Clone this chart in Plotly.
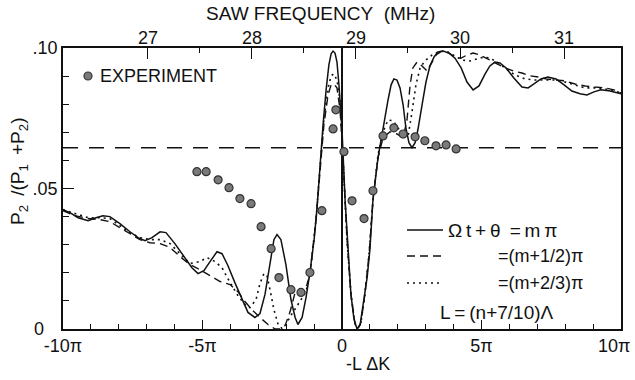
import plotly.graph_objects as go

# ---------------- data (x in units of pi for -L*dK, y = P2/(P1+P2)) ----------------
x_solid = [-10.00, -9.75, -9.46, -9.10, -8.82, -8.57, -8.32, -7.96, -7.60, -7.31, -7.06, -6.81,
           -6.52, -6.31, -5.99, -5.63, -5.38, -5.16, -4.95, -4.73, -4.48, -4.30, -4.09, -3.84,
           -3.58, -3.37, -3.12, -2.94, -2.76, -2.58, -2.44, -2.33, -2.19, -2.01, -1.83, -1.68,
           -1.58, -1.43, -1.29, -1.15, -1.00, -0.90, -0.79, -0.68, -0.57, -0.47, -0.39, -0.32,
           -0.25, -0.18, -0.11, 0.00, 0.11, 0.22, 0.32, 0.43, 0.54, 0.65, 0.79, 0.90, 1.00,
           1.11, 1.29, 1.47, 1.65, 1.76, 1.86, 1.97, 2.08, 2.19, 2.29, 2.40, 2.51, 2.62, 2.72,
           2.87, 3.01, 3.15, 3.30, 3.44, 3.62, 3.84, 4.05, 4.27, 4.48, 4.70, 4.91, 5.13, 5.30,
           5.48, 5.66, 5.88, 6.16, 6.45, 6.67, 6.88, 7.13, 7.38, 7.67, 7.96, 8.24, 8.53, 8.78,
           9.03, 9.28, 9.61, 10.00]
p_solid = [0.0425, 0.0414, 0.0396, 0.0385, 0.0396, 0.0403, 0.0400, 0.0375, 0.0346, 0.0325, 0.0314, 0.0325,
           0.0346, 0.0343, 0.0304, 0.0254, 0.0218, 0.0197, 0.0208, 0.0240, 0.0275, 0.0268, 0.0226, 0.0165,
           0.0105, 0.0059, 0.0041, 0.0055, 0.0123, 0.0240, 0.0318, 0.0336, 0.0318, 0.0229, 0.0105, 0.0041,
           0.0016, 0.0041, 0.0112, 0.0201, 0.0318, 0.0425, 0.0584, 0.0726, 0.0851, 0.0940, 0.0979, 0.0989,
           0.0982, 0.0950, 0.0869, 0.0709, 0.0460, 0.0265, 0.0123, 0.0034, 0.0000, 0.0016, 0.0105, 0.0183, 0.0282,
           0.0460, 0.0609, 0.0716, 0.0815, 0.0869, 0.0890, 0.0886, 0.0858, 0.0798, 0.0716, 0.0663, 0.0645, 0.0663, 0.0709,
           0.0798, 0.0879, 0.0936, 0.0968, 0.0986, 0.0989, 0.0982, 0.0964, 0.0929, 0.0879, 0.0851, 0.0865, 0.0908, 0.0936,
           0.0950, 0.0947, 0.0929, 0.0893, 0.0861, 0.0858, 0.0872, 0.0890, 0.0897, 0.0890, 0.0869, 0.0847, 0.0837, 0.0833,
           0.0844, 0.0851, 0.0847, 0.0837]

x_dashed = [-10.00, -9.57, -9.10, -8.67, -8.32, -7.96, -7.60, -7.24, -6.88, -6.52, -6.16, -5.81,
            -5.45, -5.09, -4.73, -4.37, -4.01, -3.73, -3.48, -3.23, -2.94, -2.65, -2.40, -2.22,
            -2.04, -1.86, -1.68, -1.51, -1.33, -1.15, -0.93, -0.79, -0.65, -0.50, -0.39, -0.29,
            -0.18, -0.07, 0.04, 0.18, 0.32, 0.47, 0.57, 0.68, 0.82, 0.97, 1.11, 1.29, 1.47,
            1.72, 1.97, 2.19, 2.33, 2.44, 2.54, 2.69, 2.87, 3.05, 3.19, 3.37, 3.58, 3.84, 4.05,
            4.27, 4.48, 4.70, 4.95, 5.23, 5.52, 5.84, 6.16, 6.45, 6.74, 7.03, 7.31, 7.63, 7.99,
            8.35, 8.71, 9.07, 9.43, 9.75, 10.00]
p_dashed = [0.0421, 0.0403, 0.0393, 0.0389, 0.0382, 0.0361, 0.0339, 0.0318, 0.0307, 0.0304, 0.0290, 0.0258,
            0.0229, 0.0211, 0.0190, 0.0169, 0.0158, 0.0133, 0.0098, 0.0069, 0.0041, 0.0016, 0.0000, 0.0000,
            0.0012, 0.0062, 0.0130, 0.0140, 0.0133, 0.0194, 0.0389, 0.0567, 0.0726, 0.0833, 0.0869, 0.0872,
            0.0858, 0.0780, 0.0602, 0.0318, 0.0123, 0.0016, 0.0000, 0.0023, 0.0123, 0.0265, 0.0460, 0.0609, 0.0680,
            0.0702, 0.0694, 0.0680, 0.0744, 0.0869, 0.0929, 0.0950, 0.0936, 0.0918, 0.0943, 0.0975, 0.0989, 0.0982, 0.0968,
            0.0964, 0.0975, 0.0982, 0.0975, 0.0961, 0.0947, 0.0929, 0.0918, 0.0911, 0.0901, 0.0897, 0.0890, 0.0886, 0.0883,
            0.0872, 0.0865, 0.0861, 0.0858, 0.0851, 0.0840]

x_dotted = [-10.00, -9.57, -9.10, -8.67, -8.32, -7.96, -7.60, -7.24, -6.88, -6.52, -6.16, -5.81,
            -5.45, -5.09, -4.84, -4.55, -4.30, -4.01, -3.73, -3.48, -3.30, -3.08, -2.94, -2.80,
            -2.69, -2.58, -2.44, -2.29, -2.15, -2.01, -1.86, -1.65, -1.43, -1.29, -1.15, -0.93,
            -0.79, -0.65, -0.50, -0.39, -0.29, -0.18, -0.07, 0.04, 0.18, 0.32, 0.47, 0.57, 0.68,
            0.82, 0.97, 1.11, 1.29, 1.47, 1.65, 1.83, 2.01, 2.19, 2.37, 2.51, 2.65, 2.80, 2.97,
            3.23, 3.51, 3.80, 4.05, 4.30, 4.59, 4.84, 5.09, 5.30, 5.56, 5.84, 6.20, 6.56, 6.92,
            7.28, 7.63, 7.99, 8.35, 8.71, 9.07, 9.43, 9.75, 10.00]
p_dotted = [0.0425, 0.0410, 0.0396, 0.0396, 0.0393, 0.0368, 0.0343, 0.0325, 0.0318, 0.0318, 0.0304, 0.0268,
            0.0233, 0.0240, 0.0254, 0.0240, 0.0218, 0.0165, 0.0119, 0.0087, 0.0076, 0.0105, 0.0162, 0.0197,
            0.0190, 0.0140, 0.0069, 0.0016, 0.0002, 0.0016, 0.0044, 0.0076, 0.0112, 0.0133, 0.0194, 0.0389,
            0.0574, 0.0744, 0.0858, 0.0901, 0.0908, 0.0886, 0.0815, 0.0602, 0.0318, 0.0123, 0.0016, 0.0000, 0.0023,
            0.0123, 0.0265, 0.0460, 0.0620, 0.0702, 0.0744, 0.0741, 0.0716, 0.0680, 0.0687, 0.0773, 0.0869, 0.0929, 0.0954,
            0.0975, 0.0989, 0.0986, 0.0972, 0.0957, 0.0954, 0.0961, 0.0968, 0.0964, 0.0950, 0.0929, 0.0904, 0.0890, 0.0886,
            0.0886, 0.0886, 0.0879, 0.0869, 0.0858, 0.0858, 0.0854, 0.0847, 0.0840]

exp_x = [-5.20, -4.87, -4.44, -4.05, -3.66, -3.26, -2.90, -2.54, -2.26, -1.83, -1.47, -1.15,
         -0.72, -0.32, -0.22, 0.07, 0.36, 0.79, 1.11, 1.47, 1.86, 2.19, 2.62, 2.97, 3.37, 3.73, 4.09]
exp_y = [0.0560, 0.0560, 0.0531, 0.0503, 0.0464, 0.0446, 0.0364, 0.0286, 0.0183, 0.0140, 0.0130, 0.0201,
         0.0421, 0.0712, 0.0780, 0.0631, 0.0456, 0.0393, 0.0492, 0.0687, 0.0716, 0.0694, 0.0684, 0.0670,
         0.0652, 0.0655, 0.0641]

threshold_level = 0.0645

x_tick_vals = [-10, -5, 0, 5, 10]
x_tick_text = ["-10π", "-5π", "0", "5π", "10π\u2007\u2009"]
y_tick_vals = [0, 0.05, 0.10]
y_tick_text = ["0\u2007\u2009", ".05", ".10"]
freq_tick_vals = [27, 28, 29, 30, 31]
freq_tick_text = ["27", "28", "29", "30", "31"]
freq_minor_vals = [27.5, 28.5, 29.5, 30.5]
freq_range = [26.183, 31.548]

FONT = "Liberation Sans, Arial, sans-serif"
BLACK = "#111111"

fig = go.Figure()

fig.add_trace(go.Scatter(x=[x_tick_vals[0], x_tick_vals[-1]], y=[threshold_level, threshold_level],
                         mode="lines", line=dict(color=BLACK, width=1.3, dash="15px,11px"),
                         hoverinfo="skip"))
fig.add_trace(go.Scatter(x=x_dotted, y=p_dotted, mode="lines",
                         line=dict(color=BLACK, width=1.6, dash="2px,4px")))
fig.add_trace(go.Scatter(x=x_dashed, y=p_dashed, mode="lines",
                         line=dict(color=BLACK, width=1.4, dash="8px,5px")))
fig.add_trace(go.Scatter(x=x_solid, y=p_solid, mode="lines",
                         line=dict(color=BLACK, width=1.5)))
fig.add_trace(go.Scatter(x=exp_x, y=exp_y, mode="markers",
                         marker=dict(size=8, color="#7a7a7a", line=dict(color="#333333", width=1.2))))
# carrier for the top (frequency) axis
fig.add_trace(go.Scatter(x=freq_tick_vals, y=[0] * len(freq_tick_vals), xaxis="x2", mode="markers",
                         marker=dict(opacity=0), hoverinfo="skip"))

axis_common = dict(showline=True, linecolor=BLACK, linewidth=1.5, showgrid=False, automargin=False,
                   ticks="inside", tickcolor=BLACK, tickwidth=1.3,
                   tickfont=dict(family=FONT, size=18, color=BLACK))

fig.update_layout(
    width=635, height=380,
    margin=dict(l=63, r=14, t=48, b=51, autoexpand=False),
    paper_bgcolor="white", plot_bgcolor="white",
    showlegend=False,
    xaxis=dict(range=[-10, 10], tickmode="array", tickvals=x_tick_vals, ticktext=x_tick_text,
               ticklen=9, zeroline=True, zerolinecolor=BLACK, zerolinewidth=1.5,
               ticklabeloverflow="allow",
               minor=dict(dtick=1, tick0=0, ticks="inside", ticklen=5, tickcolor=BLACK, tickwidth=1.2,
                          showgrid=False),
               **axis_common),
    xaxis2=dict(range=freq_range, overlaying="x", side="top", anchor="y",
                tickmode="array", tickvals=freq_tick_vals, ticktext=freq_tick_text,
                ticklen=11, zeroline=False, ticklabelstandoff=-5,
                minor=dict(tickmode="array", tickvals=freq_minor_vals, ticks="inside", ticklen=5,
                           tickcolor=BLACK, tickwidth=1.2, showgrid=False),
                **axis_common),
    yaxis=dict(range=[0, 0.1], tickmode="array", tickvals=y_tick_vals, ticktext=y_tick_text,
               ticklen=11, zeroline=False, mirror=True,
               minor=dict(dtick=0.01, tick0=0, ticks="inside", ticklen=6, tickcolor=BLACK, tickwidth=1.2,
                          showgrid=False),
               **axis_common),
)

def px2paper_x(px):
    return (px - 63) / 558.0

def px2paper_y(py):
    return (329 - py) / 281.0

text_font = dict(family=FONT, size=18, color=BLACK)

annotations = [
    dict(text="SAW FREQUENCY\u00a0 (MHz)", x=px2paper_x(320), y=px2paper_y(13.5), xanchor="center",
         yanchor="middle", font=dict(family=FONT, size=19, color=BLACK)),
    dict(text="-L ΔK", x=px2paper_x(368), y=px2paper_y(364), xanchor="center", yanchor="middle",
         font=text_font),
    dict(text="P<sub>2</sub>\u2009 /(P<sub>1</sub>\u2009 +P<sub>2</sub>)", x=px2paper_x(19), y=px2paper_y(172),
         xanchor="center", yanchor="middle", textangle=-90, font=dict(family=FONT, size=19, color=BLACK)),
    dict(text="EXPERIMENT", x=px2paper_x(98), y=px2paper_y(76), xanchor="left", yanchor="middle",
         font=dict(family=FONT, size=18, color=BLACK)),
    dict(text="Ω\u2009t\u2009+\u2009θ \u2009=\u2009m\u2009π", x=px2paper_x(446), y=px2paper_y(230),
         xanchor="left", yanchor="middle", font=dict(family=FONT, size=19, color=BLACK)),
    dict(text="=(m+1/2)π", x=px2paper_x(496), y=px2paper_y(256), xanchor="left", yanchor="middle",
         font=dict(family=FONT, size=18, color=BLACK)),
    dict(text="=(m+2/3)π", x=px2paper_x(496), y=px2paper_y(283), xanchor="left", yanchor="middle",
         font=dict(family=FONT, size=18, color=BLACK)),
    dict(text="L\u2009=\u2009(n+7/10)Λ", x=px2paper_x(438), y=px2paper_y(312), xanchor="left", yanchor="middle",
         font=dict(family=FONT, size=19, color=BLACK)),
]
for a in annotations:
    a.update(xref="paper", yref="paper", showarrow=False)
fig.update_layout(annotations=annotations)

shapes = [
    dict(type="line", x0=px2paper_x(407), x1=px2paper_x(443), y0=px2paper_y(230), y1=px2paper_y(230),
         line=dict(color=BLACK, width=1.5)),
    dict(type="line", x0=px2paper_x(407), x1=px2paper_x(443), y0=px2paper_y(256), y1=px2paper_y(256),
         line=dict(color=BLACK, width=1.4, dash="8px,5px")),
    dict(type="line", x0=px2paper_x(407), x1=px2paper_x(443), y0=px2paper_y(283), y1=px2paper_y(283),
         line=dict(color=BLACK, width=1.6, dash="2px,4px")),
    dict(type="circle", x0=px2paper_x(84), x1=px2paper_x(92), y0=px2paper_y(80), y1=px2paper_y(72),
         fillcolor="#7a7a7a", line=dict(color="#333333", width=1.2)),
]
for s in shapes:
    s.update(xref="paper", yref="paper")
fig.update_layout(shapes=shapes)

fig.write_html("out.html")
